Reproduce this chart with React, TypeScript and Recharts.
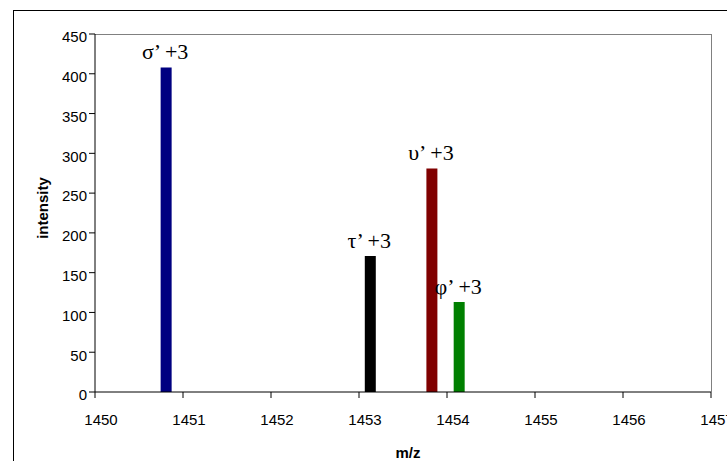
import { BarChart, Bar, XAxis, YAxis, Cell, LabelList } from "recharts";

const mzValues = [1450.81, 1453.13, 1453.83, 1454.14];
const intensities = [408, 171, 281, 113];
const peakLabels = ["σ’ +3", "τ’ +3", "υ’ +3", "φ’ +3"];
const peakColors = ["#000080", "#000000", "#800000", "#008000"];
const xTicks = [1450, 1451, 1452, 1453, 1454, 1455, 1456, 1457];
const yTicks = [0, 50, 100, 150, 200, 250, 300, 350, 400, 450];

const data = mzValues.map((mz, i) => ({ mz, intensity: intensities[i], label: peakLabels[i] }));

const PeakLabel = (props: any) => {
  const { x, y, width, value } = props;
  return (
    <text x={x + width / 2 - 1} y={y - 8} textAnchor="middle" fontFamily="'Liberation Serif', serif" fontSize={22} fill="#000">
      {value}
    </text>
  );
};

const font = "'Liberation Sans', Arial, sans-serif";

const App = () => {
  return (
    <div style={{ position: "fixed", left: 0, top: 0, width: 727, height: 461, background: "#fff", overflow: "hidden" }}>
      {/* outer chart frame, runs off the right and bottom edges */}
      <div style={{ position: "absolute", left: 13, top: 10, width: 800, height: 500, border: "1px solid #000", boxSizing: "border-box" }} />
      {/* plot box top/right border */}
      <div style={{ position: "absolute", left: 95, top: 34, width: 617, height: 358, borderTop: "1px solid #808080", borderRight: "1px solid #808080", boxSizing: "border-box" }} />
      <div style={{ position: "absolute", left: 0, top: 0 }}>
        <BarChart width={727} height={461} data={data} margin={{ top: 34, right: 16, bottom: 39, left: 35 }}>
          <XAxis
            dataKey="mz"
            type="number"
            domain={[1450, 1457]}
            ticks={xTicks}
            allowDataOverflow
            tick={{ fill: "#000", fontSize: 15, fontFamily: font, dx: 6 }}
            tickSize={6}
            tickMargin={16}
            axisLine={{ stroke: "#000" }}
            tickLine={{ stroke: "#000" }}
            height={30}
          />
          <YAxis
            type="number"
            domain={[0, 450]}
            ticks={yTicks}
            tick={{ fill: "#000", fontSize: 15, fontFamily: font, dy: 3 }}
            tickSize={6}
            tickMargin={2}
            axisLine={{ stroke: "#000" }}
            tickLine={{ stroke: "#000" }}
            width={60}
          />
          <Bar dataKey="intensity" barSize={11} isAnimationActive={false}>
            {data.map((d, i) => (
              <Cell key={`c-${i}`} fill={peakColors[i]} />
            ))}
            <LabelList dataKey="label" content={PeakLabel} />
          </Bar>
        </BarChart>
      </div>
      <div style={{ position: "absolute", left: 42, top: 208, transform: "translate(-50%, -50%) rotate(-90deg)", fontFamily: font, fontWeight: "bold", fontSize: 15, whiteSpace: "nowrap" }}>
        intensity
      </div>
      <div style={{ position: "absolute", left: 408, top: 452, transform: "translate(-50%, -50%)", fontFamily: font, fontWeight: "bold", fontSize: 15, whiteSpace: "nowrap" }}>
        m/z
      </div>
    </div>
  );
};

export default App;
